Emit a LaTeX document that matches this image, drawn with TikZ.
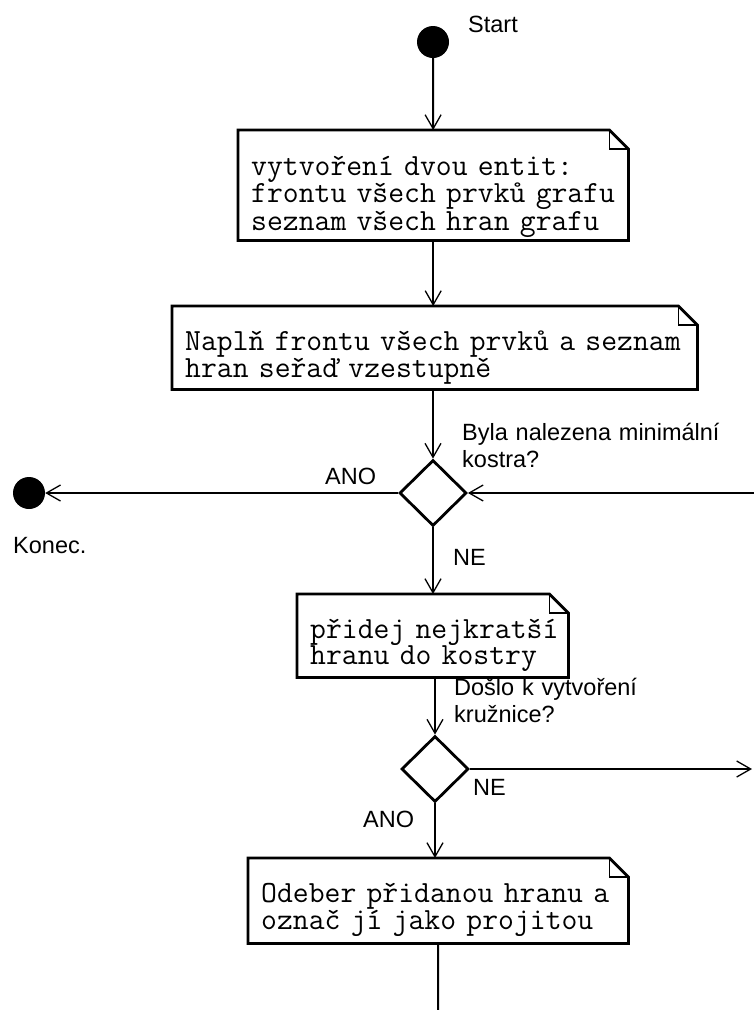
\documentclass[tikz,border=0pt]{standalone}
\usepackage{fontspec}
\setmainfont{Liberation Sans}
\usetikzlibrary{shapes.geometric,arrows.meta}
\tikzset{
	flow/.style={line width=2pt, -{Straight Barb[length=14pt,width=16pt,line width=1.3pt]}},
	notebox/.style={anchor=north west, inner xsep=13pt, inner ysep=0pt, text height=44pt, align=left, font=\ttfamily\fontsize{30.8}{26}\selectfont},
	noteline/.style={line width=2.8pt, line join=miter},
	decision/.style={diamond, draw, line width=2.8pt, inner sep=0pt, minimum width=67pt, minimum height=66pt},
	terminal/.style={circle, fill=black, inner sep=0pt, minimum size=32pt},
	lbl/.style={anchor=base west, inner sep=0pt, font=\fontsize{23.5}{27}\selectfont, align=left}
}
\begin{document}
\begin{tikzpicture}[x=1pt, y=-1pt]
	\useasboundingbox[fill=white] (0,0) rectangle (754,1010);

	\node[terminal] (start) at (433,42) {};
	\node[terminal] (end) at (29,493) {};

	\node[notebox, text width=364pt, text height=45pt, text depth=65pt] (make) at (238,130) {vytvoření~dvou~entit:\\frontu~všech~prvků~grafu\\seznam~všech~hran~grafu};
	\node[notebox, text width=499pt, text depth=39pt] (fill) at (172,306) {Naplň~frontu~všech~prvků~a~seznam\\hran~seřaď~vzestupně};
	\node[notebox, text width=245pt, text depth=39pt] (add) at (297,594) {přidej~nejkratší\\hranu~do~kostry};
	\node[notebox, text width=354pt, text depth=41pt] (drop) at (248,858) {Odeber~přidanou~hranu~a\\označ~jí~jako~projitou};

	\node[decision] (found) at (433,493) {};
	\node[decision] (cycle) at (435,769) {};

	\coordinate (loopin) at (754,493);
	\coordinate (loopout) at (752,769);
	\coordinate (down) at (438,1010);

	% note outlines with folded corner
	\foreach \n in {make,fill,add,drop} {
		\draw[noteline] (\n.north west) -- ([xshift=-19pt]\n.north east) -- ([yshift=-19pt]\n.north east) -- (\n.south east) -- (\n.south west) -- cycle;
		\draw[line width=1.5pt] ([xshift=-19pt]\n.north east) |- ([yshift=-19pt]\n.north east);
	}

	\draw[flow] (start) -- (make);
	\draw[flow] (make.south) -- (make.south |- fill.north);
	\draw[flow] (fill.south -| found.north) -- (found.north);
	\draw[flow] (found.west) -- (end);
	\draw[flow] (loopin) -- (found.east);
	\draw[flow] (found.south) -- (found.south |- add.north);
	\draw[flow] (add.south -| cycle.north) -- (cycle.north);
	\draw[flow] (cycle.east) -- (loopout);
	\draw[flow] (cycle.south) -- (cycle.south |- drop.north);
	\draw[line width=2pt] (drop.south) -- (down);

	\node[lbl] (startlbl) at (468,32) {Start};
	\node[lbl, text width=290pt] (q1) at (462,440) {Byla nalezena minimální\\kostra?};
	\node[lbl] (yes1) at (325,484) {ANO};
	\node[lbl] (endlbl) at (13,553) {Konec.};
	\node[lbl] (no1) at (453,565) {NE};
	\node[lbl, text width=290pt] (q2) at (454,695) {Došlo k vytvoření\\kružnice?};
	\node[lbl] (no2) at (473,795) {NE};
	\node[lbl] (yes2) at (363,827) {ANO};
\end{tikzpicture}
\end{document}
